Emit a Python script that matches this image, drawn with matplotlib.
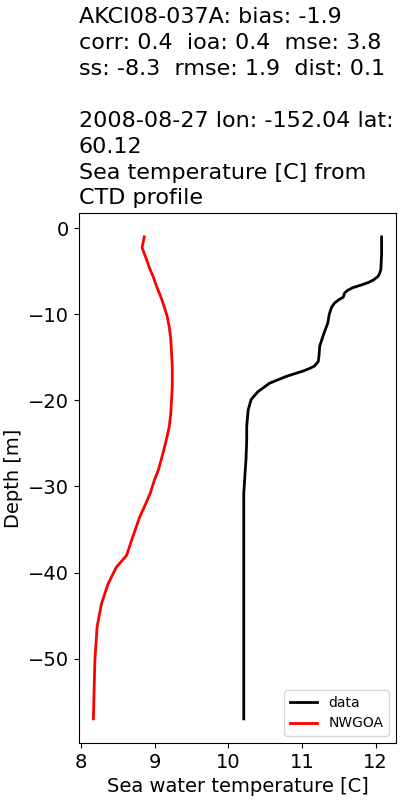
import matplotlib
matplotlib.use("Agg")
import matplotlib.pyplot as plt

# CTD observations (black)
obs_temp = [12.08, 12.08, 12.07, 12.05, 12.03, 11.97, 11.90, 11.80, 11.69, 11.62, 11.58,
            11.56, 11.50, 11.44, 11.40, 11.37, 11.35, 11.29, 11.24, 11.23, 11.22, 11.17,
            11.10, 11.01, 10.79, 10.56, 10.40, 10.31, 10.27, 10.25, 10.25, 10.24, 10.23,
            10.22, 10.21, 10.21, 10.21, 10.21, 10.21]
obs_depth = [-1.0, -3.0, -4.8, -5.3, -5.6, -6.0, -6.3, -6.6, -6.9, -7.2, -7.5,
             -8.0, -8.3, -8.7, -9.2, -10.0, -11.0, -12.4, -13.7, -14.9, -15.5, -16.0,
             -16.3, -16.6, -17.2, -18.0, -19.0, -19.9, -21.1, -23.0, -24.6, -26.9, -28.1,
             -29.5, -30.8, -35.0, -42.5, -50.2, -57.0]

# model (red)
mod_temp = [8.86, 8.83, 8.89, 8.93, 8.98, 9.03, 9.09, 9.13, 9.17, 9.20, 9.22, 9.24,
            9.24, 9.24, 9.22, 9.20, 9.17, 9.13, 9.09, 9.05, 9.00, 8.94, 8.87, 8.80,
            8.69, 8.62, 8.55, 8.48, 8.37, 8.28, 8.22, 8.19, 8.18, 8.17]
mod_depth = [-1.0, -2.25, -3.6, -4.6, -5.6, -6.8, -8.1, -9.1, -10.2, -11.5, -12.9, -16.0,
             -17.2, -18.4, -21.5, -23.0, -24.2, -25.6, -26.9, -28.1, -29.2, -30.8, -32.2, -33.5,
             -36.2, -38.0, -38.7, -39.4, -41.3, -43.6, -46.3, -50.2, -53.5, -57.0]

title = ("AKCI08-037A: bias: -1.9\n"
         "corr: 0.4  ioa: 0.4  mse: 3.8\n"
         "ss: -8.3  rmse: 1.9  dist: 0.1\n"
         "\n"
         "2008-08-27 lon: -152.04 lat:\n"
         "60.12\n"
         "Sea temperature [C] from\n"
         "CTD profile")

plt.rcParams['font.size'] = 14

fig = plt.figure(figsize=(4, 8), dpi=100)
ax = fig.add_axes([0.1975, 0.0713, 0.7925, 0.6627])
ax.plot(obs_temp, obs_depth, color='black', lw=2, label='data')
ax.plot(mod_temp, mod_depth, color='red', lw=2, label='NWGOA')
ax.set_xlabel('Sea water temperature [C]')
ax.set_ylabel('Depth [m]')
ax.set_title(title, loc='left', fontsize=16, linespacing=1.37)
ax.legend(loc='lower right', fontsize=10)

fig.savefig('out.png')
